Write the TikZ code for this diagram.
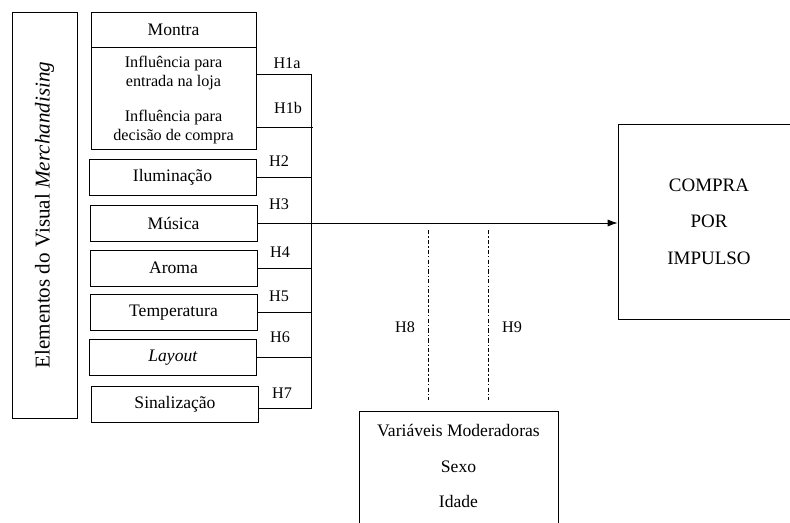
\documentclass[tikz,border=0pt]{standalone}
\usepackage{fontspec}
\setmainfont{Liberation Serif}
\usetikzlibrary{arrows.meta}
\tikzset{>=latex}
\tikzstyle{boxline}=[draw=black,line width=0.2mm]
\tikzstyle{itembox}=[boxline,minimum width=4.175cm,minimum height=0.9cm,inner sep=0pt,font=\fontsize{12.5}{15}\selectfont]
\tikzstyle{hlabel}=[font=\fontsize{11.5}{14}\selectfont]
\tikzstyle{subtext}=[align=center,font=\fontsize{11.5}{14}\selectfont]
\tikzstyle{modline}=[draw=black,line width=0.2mm,dash pattern=on 3pt off 1.5pt on 1pt off 1.5pt]

\begin{document}
\begin{tikzpicture}[x=0.025cm,y=-0.025cm]
    \useasboundingbox (0,0) rectangle (790,522);
    \clip (0,0) rectangle (790,522);

    \node[boxline,rotate=90,minimum width=10.15cm,minimum height=1.625cm,font=\fontsize{15}{18}\selectfont] (elem) at (44.5,215) {Elementos do Visual \textit{Merchandising}};

    % elementos
    \node[itembox,minimum width=4.125cm,minimum height=0.875cm] (montra) at (173.5,29.5) {Montra};
    \node[boxline,minimum width=4.125cm,minimum height=2.55cm] (infl) at (173.5,98) {};
    \node[subtext] (entrada) at (173.5,73) {Influência para\\entrada na loja};
    \node[subtext] (decisao) at (173.5,127) {Influência para\\decisão de compra};
    \node[itembox] (ilum) at (172.5,177) {Iluminação};
    \node[itembox] (musica) at (173.5,223) {Música};
    \node[itembox] (aroma) at (173.5,268) {Aroma};
    \node[itembox] (temp) at (173.5,312.5) {Temperatura};
    \node[itembox] (layout) at (173,357.5) {\textit{Layout}};
    \node[itembox] (sinal) at (175,404) {Sinalização};

    \node[boxline,minimum width=4.55cm,minimum height=4.875cm,align=center,font=\fontsize{13.5}{26}\selectfont] (compra) at (709,221.5) {COMPRA\\POR\\IMPULSO};

    \node[boxline,minimum width=4.975cm,minimum height=3.5cm,anchor=north] (moder) at (458.5,411) {};
    \node[align=center,font=\fontsize{12.5}{25}\selectfont] (modtext) at (458.5,466) {Variáveis Moderadoras\\Sexo\\Idade};

    % ligacoes
    \coordinate (bartop) at (311,74);
    \coordinate (barbot) at (311,408);
    \draw[boxline] (infl.east |- bartop) -- (bartop) -- (barbot) -- (barbot -| sinal.east);
    \draw[boxline] (infl.east |- decisao) -- ([xshift=0.05cm]decisao -| bartop);
    \foreach \n in {ilum,aroma,temp,layout}
        \draw[boxline] (\n.east) -- (\n.east -| bartop);
    \draw[boxline,-{Latex[length=7pt,width=5pt]}] (musica.east) -- (musica.east -| compra.west);

    \coordinate (h8top) at (428,230);
    \coordinate (h9top) at (488,230);
    \draw[modline,shorten >=0.275cm] (h8top) -- (h8top |- moder.north);
    \draw[modline,shorten >=0.275cm] (h9top) -- (h9top |- moder.north);

    \node[hlabel] (h1a) at (287,63) {H1a};
    \node[hlabel] (h1b) at (288,108) {H1b};
    \node[hlabel] (h2) at (279,161) {H2};
    \node[hlabel] (h3) at (279,204) {H3};
    \node[hlabel] (h4) at (280,252) {H4};
    \node[hlabel] (h5) at (279,296) {H5};
    \node[hlabel] (h6) at (280,337) {H6};
    \node[hlabel] (h7) at (282,393) {H7};
    \node[hlabel] (h8) at (405,327) {H8};
    \node[hlabel] (h9) at (512,327) {H9};
\end{tikzpicture}
\end{document}
